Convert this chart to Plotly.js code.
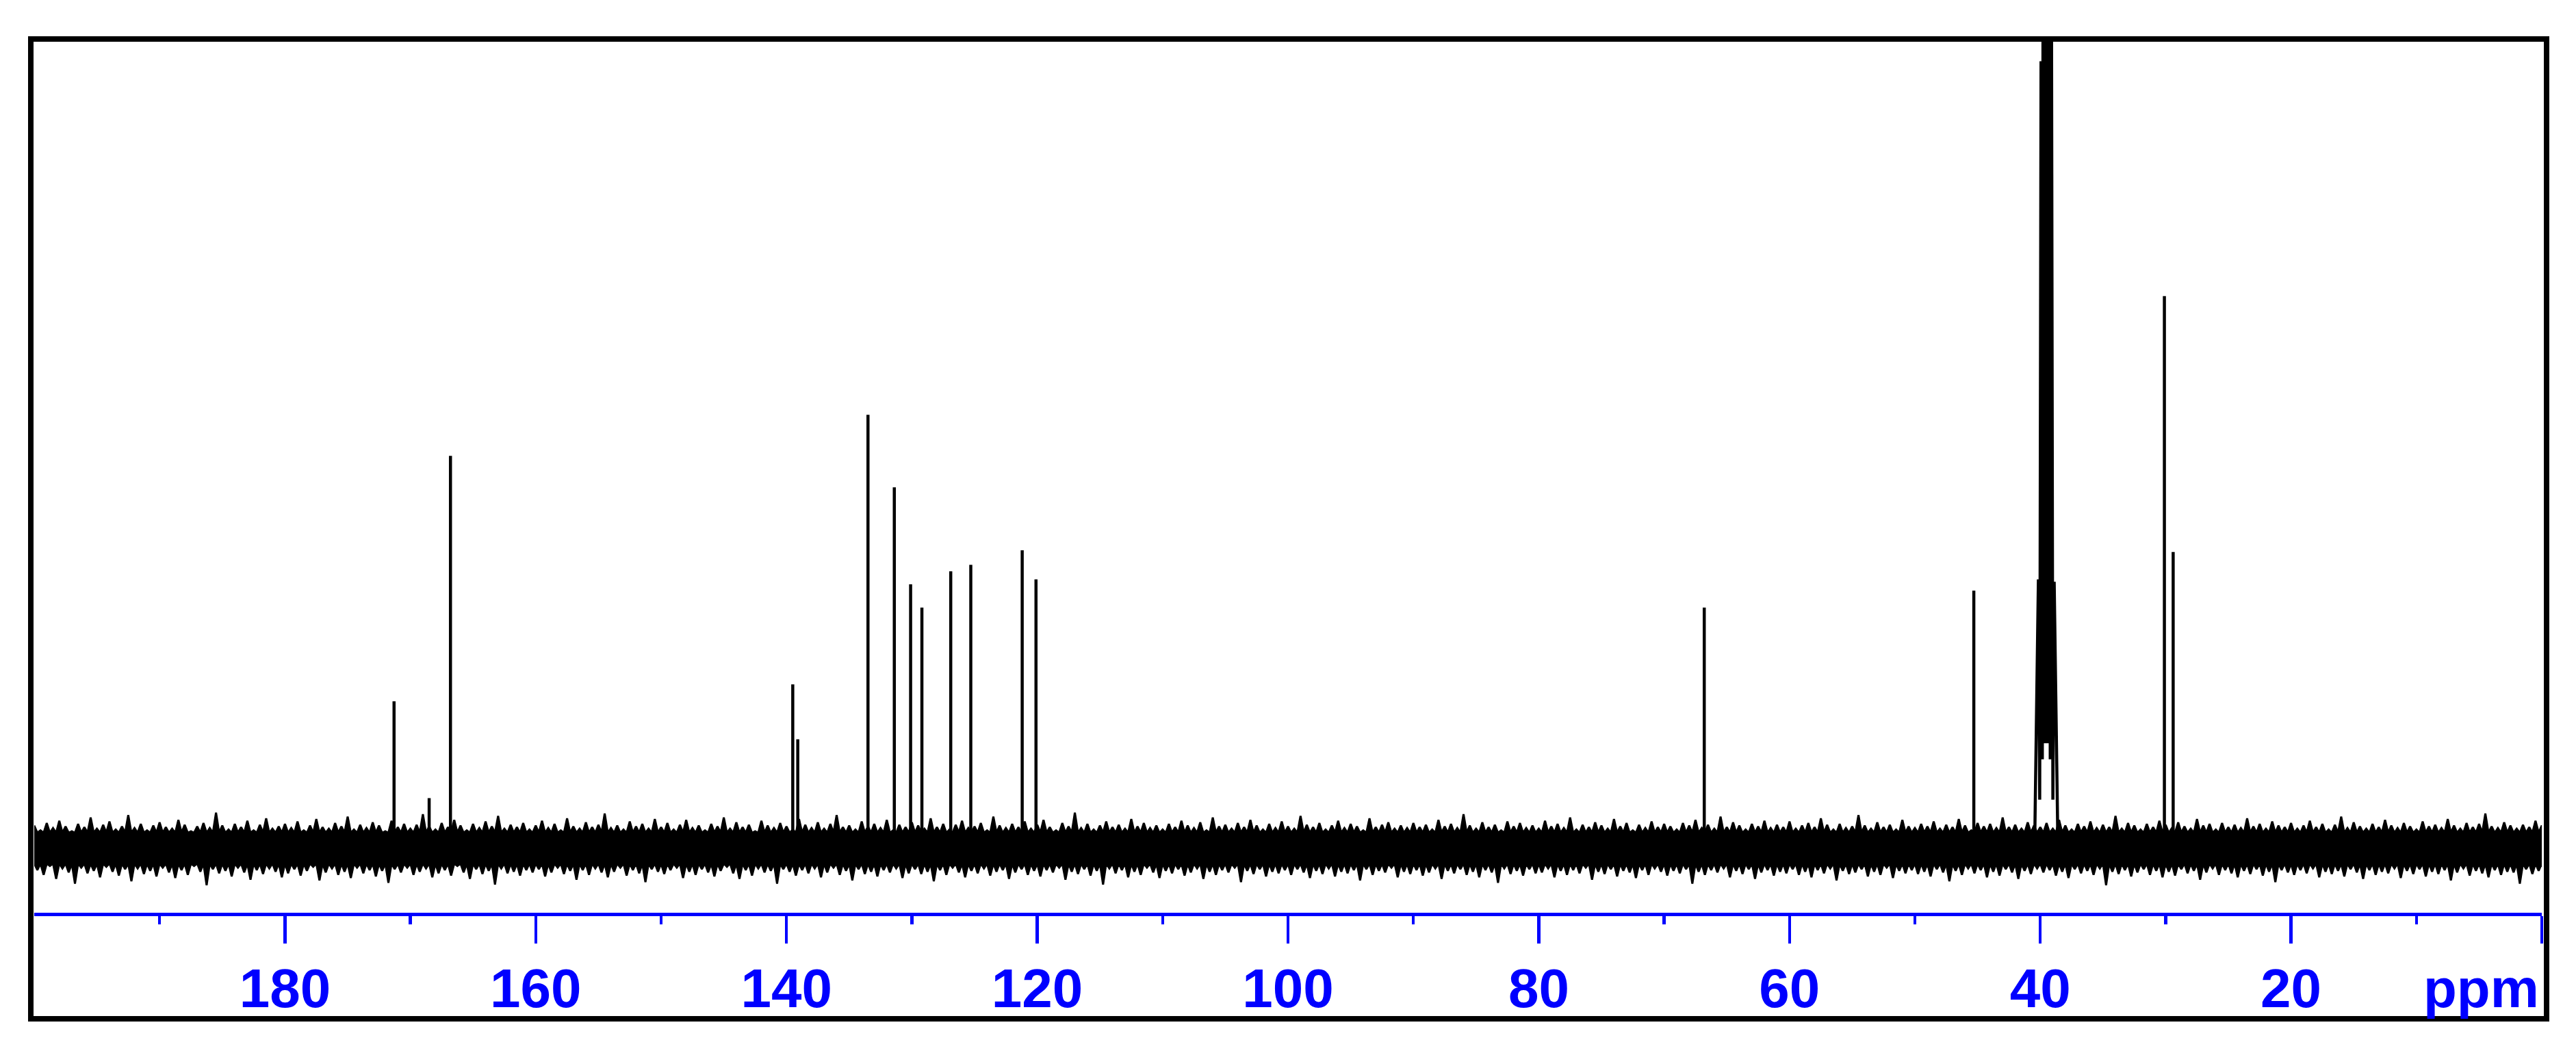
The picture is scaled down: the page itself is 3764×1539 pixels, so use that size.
<!DOCTYPE html>
<html>
<head>
<meta charset="utf-8">
<script src="https://cdn.plot.ly/plotly-3.0.1.min.js"></script>
<style>
  html, body { margin: 0; padding: 0; background: #ffffff; }
  #chart { width: 3764px; height: 1539px; }
</style>
</head>
<body>
<div id="chart"></div>
<script>
// ---------------- DATA ----------------
// 13C NMR peaks: chemical shift (ppm) and height (intensity units, baseline = 0)
const peakPpm    = [171.3, 168.5, 166.8, 139.5, 139.1, 133.5, 131.4, 130.1, 129.2, 126.9, 125.3, 121.2, 120.1, 66.8, 45.3, 30.1, 29.4];
const peakHeight = [182,   62,    486,   203,   135,   537,   447,   327,   298,   343,   351,   369,   333,   298,  319,  684,  367];

// DMSO-d6 solvent septet (lines, heights, valleys between lines)
const solventPpm    = [40.15, 39.94, 39.73, 39.52, 39.31, 39.10, 38.89];
const solventHeight = [333,   975,   2000,  2333,  2000,  1010,  330];
const solventValley = [60, 110, 130, 130, 110, 60];

// Baseline noise: solid core half-height, and upper / lower spike tips,
// one pair per 0.5 ppm from 200 ppm down to 0 ppm
const noiseCore = 19;
const noiseStartPpm = 200;
const noiseStepPpm = 0.5;
const noiseHi = [
28,22,31,25,34,27,21,30,26,38,24,29,33,23,27,41,25,30,22,28,
32,26,24,35,29,21,27,31,25,44,28,23,30,26,34,22,29,37,24,27,
30,25,33,22,28,36,26,24,31,27,39,23,29,25,32,28,21,34,26,30,
24,29,42,27,23,31,26,35,28,22,30,25,33,27,40,24,29,26,31,23,
28,34,25,30,22,37,27,24,32,26,29,43,25,28,23,33,27,30,24,36,
26,31,23,29,35,25,28,22,30,27,38,24,32,26,29,21,34,28,25,31,
27,23,36,29,25,32,24,30,41,26,28,23,33,27,30,25,35,22,29,26,
32,28,24,37,26,30,23,29,34,25,27,31,22,39,28,25,30,26,33,24,
29,35,26,22,31,27,44,25,30,23,28,33,26,29,24,36,27,31,25,28,
23,30,26,34,28,25,32,22,38,27,29,24,31,26,35,28,23,30,25,33,
27,24,40,29,26,31,23,28,34,25,30,27,22,37,26,29,32,24,28,25,
31,26,29,23,35,27,30,25,42,28,24,32,26,29,22,33,27,31,25,28,
24,34,27,30,25,38,23,29,26,32,28,24,36,27,31,22,29,25,33,26,
30,27,23,31,28,35,25,29,24,39,26,32,28,23,30,27,34,25,29,26,
33,24,28,31,26,37,29,23,30,25,27,41,28,24,32,26,29,23,35,27,
25,30,27,33,24,29,26,36,28,22,31,27,30,25,38,26,29,24,32,28,
26,31,24,35,28,23,30,27,33,25,29,26,40,24,31,28,23,30,26,34,
29,25,32,27,24,36,28,30,23,31,26,29,25,37,27,30,24,33,28,26,
31,24,28,34,26,30,23,29,39,25,32,27,24,30,26,35,28,25,31,27,
23,33,27,29,25,36,28,24,31,26,30,43,27,25,32,28,24,29,26,34,
28
];
const noiseLo = [
-27,-33,-22,-38,-25,-30,-44,-24,-31,-28,-36,-23,-29,-34,-26,-41,-25,-32,-28,-35,
-24,-30,-37,-27,-33,-22,-29,-46,-26,-31,-28,-35,-24,-30,-39,-27,-32,-25,-29,-36,
-31,-26,-34,-28,-23,-40,-30,-25,-33,-29,-37,-24,-31,-27,-35,-28,-43,-26,-30,-24,
-33,-29,-25,-36,-31,-27,-34,-22,-30,-38,-26,-32,-28,-45,-25,-31,-29,-34,-27,-30,
-26,-35,-30,-24,-32,-28,-39,-27,-33,-25,-30,-36,-29,-24,-34,-27,-31,-42,-26,-29,
-32,-27,-24,-37,-29,-33,-26,-30,-35,-28,-23,-31,-38,-27,-34,-25,-30,-28,-44,-26,
-29,-34,-27,-31,-25,-36,-30,-24,-33,-28,-40,-26,-32,-29,-35,-27,-30,-25,-37,-31,
-26,-32,-29,-41,-27,-33,-24,-30,-36,-28,-31,-25,-34,-29,-27,-38,-30,-26,-33,-28,
-35,-27,-30,-24,-39,-29,-32,-26,-34,-28,-45,-25,-31,-27,-36,-29,-33,-24,-30,-37,
-28,-31,-26,-34,-30,-25,-38,-29,-33,-27,-30,-24,-42,-28,-32,-26,-35,-29,-31,-27,
-33,-26,-30,-37,-28,-32,-25,-35,-29,-31,-27,-40,-26,-33,-28,-30,-24,-36,-29,-32,
-27,-34,-30,-25,-38,-28,-31,-26,-33,-29,-36,-27,-30,-43,-25,-32,-28,-34,-26,-31,
-30,-25,-36,-28,-33,-27,-31,-24,-39,-29,-32,-26,-35,-28,-30,-37,-27,-33,-25,-29,
-34,-28,-31,-26,-44,-29,-33,-27,-30,-25,-36,-28,-32,-26,-38,-30,-27,-34,-29,-31,
-26,-33,-29,-36,-27,-31,-25,-40,-28,-32,-30,-26,-35,-29,-33,-24,-37,-28,-31,-27,
-32,-29,-35,-26,-30,-41,-28,-33,-25,-31,-27,-36,-29,-34,-26,-30,-38,-28,-32,-25,
-30,-27,-34,-29,-37,-26,-31,-28,-33,-25,-46,-29,-32,-27,-35,-30,-26,-33,-28,-36,
-29,-34,-26,-31,-28,-39,-30,-25,-33,-27,-31,-36,-28,-32,-26,-34,-29,-42,-27,-30,
-33,-27,-31,-25,-36,-29,-32,-28,-35,-26,-30,-38,-27,-33,-29,-31,-25,-37,-28,-32,
-26,-35,-29,-32,-27,-40,-30,-25,-34,-28,-31,-36,-27,-33,-29,-30,-44,-26,-32,-28,
-31
];

// Axis ticks
const majorTickVals = [0, 20, 40, 60, 80, 100, 120, 140, 160, 180];
const majorTickText = ['', '20', '40', '60', '80', '100', '120', '140', '160', '180'];
const minorTickVals = [10, 30, 50, 70, 90, 110, 130, 150, 170, 190];
const axisUnit = 'ppm';

// ---------------- BUILD TRACES ----------------
// noise band: spiky upper edge left->right, spiky lower edge right->left, filled
const half = noiseStepPpm / 2;
const nx = [], ny = [];
for (let i = 0; i < noiseHi.length; i++) {
  const p = noiseStartPpm - i * noiseStepPpm;
  nx.push(p, p - half); ny.push(noiseHi[i], noiseCore);
}
for (let i = noiseLo.length - 1; i >= 0; i--) {
  const p = noiseStartPpm - i * noiseStepPpm;
  nx.push(p - half, p); ny.push(noiseLo[i], -noiseCore);
}

const px = [], py = [];
for (let i = 0; i < peakPpm.length; i++) {
  px.push(peakPpm[i], peakPpm[i], null);
  py.push(0, peakHeight[i], null);
}

const sx = [], sy = [];
const edge = 0.3;
sx.push(solventPpm[0] + edge); sy.push(0);
for (let i = 0; i < solventPpm.length; i++) {
  sx.push(solventPpm[i]); sy.push(solventHeight[i]);
  if (i < solventValley.length) {
    sx.push((solventPpm[i] + solventPpm[i + 1]) / 2); sy.push(solventValley[i]);
  }
}
sx.push(solventPpm[solventPpm.length - 1] - edge); sy.push(0);

const black = '#000000';
const blue = '#0000ff';
const traces = [
  { x: nx, y: ny, type: 'scatter', mode: 'lines', fill: 'toself', fillcolor: black,
    line: { color: black, width: 3, simplify: false }, hoverinfo: 'skip' },
  { x: px, y: py, type: 'scatter', mode: 'lines', line: { color: black, width: 4.5, simplify: false }, connectgaps: false, hoverinfo: 'skip' },
  { x: sx, y: sy, type: 'scatter', mode: 'lines',
    line: { color: black, width: 4.5, simplify: false }, hoverinfo: 'skip' }
];

const W = 3764, H = 1539;
const mL = 50, mR = 50, mT = 60, mB = 205;
const plotW = W - mL - mR, plotH = H - mT - mB;
const plotBottomPx = H - mB;
const pxToPaperX = v => (v - mL) / plotW;
const pxToPaperY = v => (plotBottomPx - v) / plotH;

const labelFont = { family: 'Liberation Sans, Arial, sans-serif', size: 80, color: blue, weight: 'bold' };

const layout = {
  width: W, height: H,
  margin: { l: mL, r: mR, t: mT, b: mB, pad: 0 },
  paper_bgcolor: '#ffffff', plot_bgcolor: '#ffffff',
  showlegend: false,
  xaxis: {
    range: [200, 0],
    showgrid: false, zeroline: false,
    showline: true, linecolor: blue, linewidth: 4.5,
    ticks: 'outside', ticklen: 40, tickwidth: 4.5, tickcolor: blue,
    tickmode: 'array', tickvals: majorTickVals, ticktext: majorTickText,
    tickfont: labelFont,
    ticklabelstandoff: -3,
    minor: { tickmode: 'array', tickvals: minorTickVals, ticks: 'outside', ticklen: 12, tickwidth: 4.5, tickcolor: blue, showgrid: false },
    fixedrange: true
  },
  yaxis: {
    range: [-80, 1000],
    visible: false, showgrid: false, zeroline: false, fixedrange: true
  },
  shapes: [{
    type: 'rect', xref: 'paper', yref: 'paper',
    x0: pxToPaperX(45), x1: pxToPaperX(3721),
    y0: pxToPaperY(1489), y1: pxToPaperY(57),
    line: { color: black, width: 8 }, fillcolor: 'rgba(0,0,0,0)', layer: 'above'
  }],
  annotations: [{
    text: axisUnit, xref: 'paper', yref: 'paper',
    x: pxToPaperX(3712), xanchor: 'right',
    y: pxToPaperY(1444), yanchor: 'middle',
    showarrow: false, font: labelFont
  }]
};

Plotly.newPlot('chart', traces, layout, { staticPlot: true, displayModeBar: false });
</script>
</body>
</html>
